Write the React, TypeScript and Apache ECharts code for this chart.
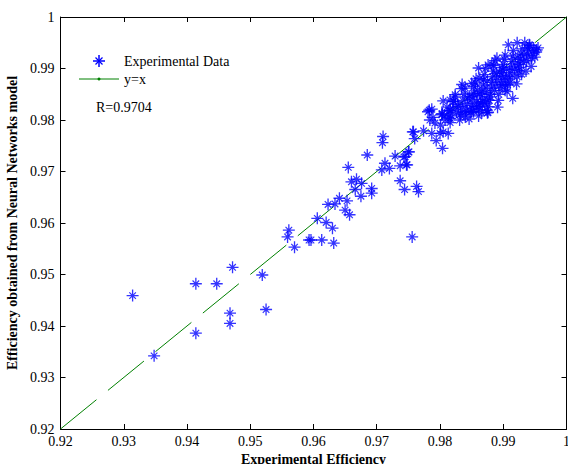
import React, { useEffect, useRef } from "react";
import * as echarts from "echarts";

const tickLabels = ["0.92", "0.93", "0.94", "0.95", "0.96", "0.97", "0.98", "0.99", "1"];
const identityLine: [number, number][] = [[0.92, 0.92], [1, 1]];

const sparsePoints: [number, number][] = [
  [0.9314, 0.9459], [0.9414, 0.9482], [0.9447, 0.9482], [0.9472, 0.9514], [0.9468, 0.9425],
  [0.9468, 0.9405], [0.9414, 0.9386], [0.9348, 0.9342], [0.9519, 0.9499], [0.9525, 0.9432],
  [0.9559, 0.9573], [0.9570, 0.9553], [0.9561, 0.9586], [0.9593, 0.9567], [0.9596, 0.9567],
  [0.9613, 0.9567], [0.9632, 0.9561], [0.9606, 0.9609], [0.9620, 0.9601], [0.9630, 0.9590],
  [0.9623, 0.9636], [0.9634, 0.9637], [0.9641, 0.9648], [0.9653, 0.9643], [0.9650, 0.9625],
  [0.9657, 0.9616], [0.9675, 0.9652], [0.9666, 0.9665], [0.9660, 0.9680], [0.9668, 0.9685],
  [0.9676, 0.9677], [0.9692, 0.9667], [0.9692, 0.9658], [0.9655, 0.9708], [0.9685, 0.9732],
  [0.9708, 0.9703], [0.9713, 0.9716], [0.9720, 0.9706], [0.9710, 0.9768], [0.9709, 0.9756],
  [0.9729, 0.9730], [0.9743, 0.9728], [0.9750, 0.9738], [0.9737, 0.9711], [0.9747, 0.9713],
  [0.9737, 0.9682], [0.9744, 0.9665], [0.9763, 0.9671], [0.9766, 0.9661], [0.9756, 0.9573],
  [0.9757, 0.9777], [0.9760, 0.9764], [0.9804, 0.9745], [0.9794, 0.9760], [0.9758, 0.9777],
  [0.9774, 0.9779], [0.9787, 0.9774], [0.9784, 0.9800], [0.9789, 0.9805], [0.9792, 0.9794],
  [0.9781, 0.9816], [0.9787, 0.9821], [0.9803, 0.9812], [0.9816, 0.9803], [0.9816, 0.9819],
  [0.9805, 0.9777], [0.9813, 0.9774], [0.9800, 0.9774], [0.9745, 0.9729], [0.9751, 0.9738],
  [0.9748, 0.9713], [0.9832, 0.9810], [0.9840, 0.9806], [0.9850, 0.9816], [0.9866, 0.9814],
  [0.9875, 0.9814], [0.9871, 0.9832], [0.9858, 0.9826], [0.9829, 0.9826], [0.9821, 0.9836],
];

const clusterPoints: [number, number][] = [
  [0.9801, 0.9790], [0.9804, 0.9812], [0.9808, 0.9800], [0.9811, 0.9825], [0.9813, 0.9805], [0.9814, 0.9818],
  [0.9816, 0.9795], [0.9818, 0.9808], [0.9820, 0.9822], [0.9822, 0.9836], [0.9824, 0.9845], [0.9826, 0.9815], [0.9828, 0.9830],
  [0.9831, 0.9800], [0.9833, 0.9812], [0.9835, 0.9825], [0.9836, 0.9838], [0.9838, 0.9850], [0.9840, 0.9862], [0.9835, 0.9869], [0.9842, 0.9818], [0.9844, 0.9843],
  [0.9846, 0.9802], [0.9848, 0.9815], [0.9849, 0.9828], [0.9851, 0.9840], [0.9853, 0.9852], [0.9854, 0.9865], [0.9856, 0.9872], [0.9857, 0.9880], [0.9858, 0.9835], [0.9859, 0.9858],
  [0.9861, 0.9808], [0.9862, 0.9820], [0.9864, 0.9833], [0.9865, 0.9845], [0.9866, 0.9856], [0.9868, 0.9868], [0.9869, 0.9878], [0.9870, 0.9888], [0.9872, 0.9900], [0.9873, 0.9862], [0.9874, 0.9840],
  [0.9876, 0.9815], [0.9877, 0.9826], [0.9878, 0.9838], [0.9879, 0.9850], [0.9881, 0.9862], [0.9882, 0.9873], [0.9883, 0.9884], [0.9884, 0.9895], [0.9885, 0.9906], [0.9887, 0.9915], [0.9888, 0.9868], [0.9889, 0.9890],
  [0.9891, 0.9825], [0.9892, 0.9838], [0.9893, 0.9850], [0.9895, 0.9862], [0.9896, 0.9874], [0.9897, 0.9886], [0.9899, 0.9897], [0.9900, 0.9908], [0.9902, 0.9918], [0.9903, 0.9926], [0.9904, 0.9880], [0.9898, 0.9902],
  [0.9906, 0.9855], [0.9907, 0.9868], [0.9909, 0.9880], [0.9910, 0.9892], [0.9912, 0.9903], [0.9913, 0.9914], [0.9915, 0.9924], [0.9916, 0.9935], [0.9908, 0.9946], [0.9918, 0.9898], [0.9915, 0.9842],
  [0.9921, 0.9870], [0.9922, 0.9884], [0.9924, 0.9896], [0.9925, 0.9908], [0.9927, 0.9918], [0.9928, 0.9928], [0.9930, 0.9938], [0.9922, 0.9950], [0.9932, 0.9912], [0.9934, 0.9950],
  [0.9936, 0.9895], [0.9937, 0.9915], [0.9939, 0.9925], [0.9940, 0.9935], [0.9942, 0.9945], [0.9941, 0.9946], [0.9944, 0.9904], [0.9946, 0.9930], [0.9948, 0.9940],
  [0.9950, 0.9922], [0.9952, 0.9932], [0.9953, 0.9936], [0.9955, 0.9940],
  [0.9783, 0.9819], [0.9805, 0.9837], [0.9816, 0.9839], [0.9824, 0.9849], [0.9834, 0.9861], [0.9861, 0.9901],
  [0.9876, 0.9907], [0.9863, 0.9881], [0.9850, 0.9871], [0.9803, 0.9810], [0.9840, 0.9816], [0.9853, 0.9816],
  [0.9882, 0.9907], [0.9890, 0.9920], [0.9874, 0.9819], [0.9868, 0.9836], [0.9903, 0.9858], [0.9903, 0.9868],
  [0.9843, 0.9832], [0.9847, 0.9846], [0.9852, 0.9822], [0.9855, 0.9848], [0.9860, 0.9826], [0.9863, 0.9851],
  [0.9867, 0.9829], [0.9871, 0.9853], [0.9875, 0.9876], [0.9880, 0.9845], [0.9886, 0.9857], [0.9890, 0.9879],
  [0.9894, 0.9893], [0.9898, 0.9869], [0.9901, 0.9885], [0.9905, 0.9899], [0.9911, 0.9873], [0.9914, 0.9887],
  [0.9919, 0.9909], [0.9923, 0.9921], [0.9926, 0.9902], [0.9929, 0.9889], [0.9933, 0.9927], [0.9938, 0.9940],
  [0.9945, 0.9920],
];

const ASTERISK =
  "path://M0 8.9H20V11.1H0Z M8.9 0H11.1V20H8.9Z M3.8 5.2L5.2 3.8L16.2 14.8L14.8 16.2Z M14.8 3.8L16.2 5.2L5.2 16.2L3.8 14.8Z";

const FONT = "'Liberation Serif', 'Times New Roman', serif";
const BLUE = "#0000ff";
const GREEN = "#008000";

function labelFor(v: number): string {
  const i = Math.round((v - 0.92) / 0.01);
  return tickLabels[i] ?? "";
}

export default function App() {
  const ref = useRef<HTMLDivElement>(null);
  useEffect(() => {
    if (!ref.current) return;
    const chart = echarts.init(ref.current, undefined, { renderer: "svg" });
    const axisCommon = {
      type: "value" as const,
      min: 0.92,
      max: 1,
      interval: 0.01,
      splitLine: { show: false },
      axisLine: { show: true, onZero: false, lineStyle: { color: "#000", width: 1 } },
      axisTick: { show: true, inside: true, length: 5, lineStyle: { color: "#000" } },
    };
    chart.setOption({
      animation: false,
      grid: { left: 60.5, right: 1.5, top: 17, bottom: 35, containLabel: false, outerBoundsMode: "none" },
      xAxis: [
        {
          ...axisCommon,
          position: "bottom",
          name: "Experimental Efficiency",
          nameLocation: "middle",
          nameGap: 21,
          nameTextStyle: { fontFamily: FONT, fontWeight: "bold", fontSize: 14, color: "#000" },
          axisLabel: { margin: 5, fontFamily: FONT, fontSize: 14, color: "#000", formatter: labelFor },
        },
        { ...axisCommon, position: "top", axisLabel: { show: false } },
      ],
      yAxis: [
        {
          ...axisCommon,
          position: "left",
          name: "Efficiency obtained from Neural Networks model",
          nameLocation: "middle",
          nameGap: 38,
          nameTextStyle: { fontFamily: FONT, fontWeight: "bold", fontSize: 14, color: "#000" },
          axisLabel: { margin: 6, fontFamily: FONT, fontSize: 14, color: "#000", formatter: labelFor },
        },
        { ...axisCommon, position: "right", axisLabel: { show: false } },
      ],
      series: [
        {
          type: "line",
          xAxisIndex: 0,
          yAxisIndex: 0,
          data: identityLine,
          showSymbol: false,
          lineStyle: { color: GREEN, width: 1, type: [46.4, 14.8] },
          z: 1,
        },
        {
          type: "scatter",
          xAxisIndex: 0,
          yAxisIndex: 0,
          data: [...sparsePoints, ...clusterPoints],
          symbol: ASTERISK,
          symbolSize: 12,
          itemStyle: { color: BLUE },
          z: 2,
        },
      ],
      graphic: [
        { type: "line", shape: { x1: 93, y1: 61, x2: 105, y2: 61 }, style: { stroke: BLUE, lineWidth: 1.5 } },
        { type: "line", shape: { x1: 99, y1: 55, x2: 99, y2: 67 }, style: { stroke: BLUE, lineWidth: 1.5 } },
        { type: "line", shape: { x1: 95.5, y1: 57.5, x2: 102.5, y2: 64.5 }, style: { stroke: BLUE, lineWidth: 1.2 } },
        { type: "line", shape: { x1: 102.5, y1: 57.5, x2: 95.5, y2: 64.5 }, style: { stroke: BLUE, lineWidth: 1.2 } },
        {
          type: "text",
          x: 124,
          y: 61,
          style: { text: "Experimental Data", font: `14px ${FONT}`, fill: "#000", verticalAlign: "middle" },
        },
        { type: "line", shape: { x1: 79, y1: 79, x2: 119, y2: 79 }, style: { stroke: GREEN, lineWidth: 1 } },
        { type: "circle", shape: { cx: 99, cy: 79, r: 1.5 }, style: { fill: GREEN } },
        {
          type: "text",
          x: 124,
          y: 79,
          style: { text: "y=x", font: `14px ${FONT}`, fill: "#000", verticalAlign: "middle" },
        },
        {
          type: "text",
          x: 96,
          y: 107,
          style: { text: "R=0.9704", font: `14px ${FONT}`, fill: "#000", verticalAlign: "middle" },
        },
      ],
    });
    return () => chart.dispose();
  }, []);
  return (
    <div
      ref={ref}
      style={{ position: "fixed", left: 0, top: 0, width: 568, height: 464, background: "#fff" }}
    />
  );
}
